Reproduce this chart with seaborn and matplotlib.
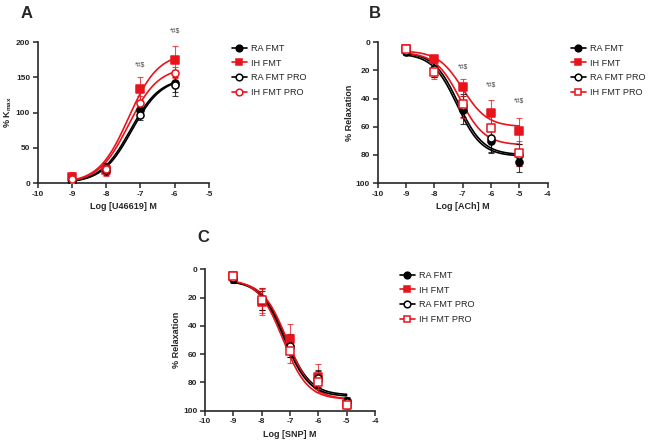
import numpy as np
import pandas as pd
import matplotlib
matplotlib.use("Agg")
import matplotlib.pyplot as plt
from matplotlib.lines import Line2D
import seaborn as sns

# groups
groups = ["RA FMT", "IH FMT", "RA FMT PRO", "IH FMT PRO"]
colors = ["black", "#e8141c", "black", "#e8141c"]
filled = [True, True, False, False]
markersA = ["o", "s", "o", "o"]   # panel A uses an open circle for IH FMT PRO
markersBC = ["o", "s", "o", "s"]

# panel A - U46619 contraction
logA = [-9, -8, -7, -6]
meanA = {
    "RA FMT": [3, 22, 104, 142],
    "IH FMT": [9, 18, 134, 175],
    "RA FMT PRO": [3, 18, 97, 140],
    "IH FMT PRO": [5, 20, 114, 157],
}
semA = {
    "RA FMT": [3, 6, 10, 18],
    "IH FMT": [7, 8, 16, 20],
    "RA FMT PRO": [3, 6, 8, 10],
    "IH FMT PRO": [4, 7, 10, 8],
}
# fitted sigmoid parameters: bottom, top, logEC50
fitA = {
    "RA FMT": (0, 150, -7.3),
    "IH FMT": (0, 185, -7.35),
    "RA FMT PRO": (0, 150, -7.25),
    "IH FMT PRO": (0, 165, -7.35),
}
A_mark_x = [-7, -6]
A_mark_y = [163, 211]

# panel B - ACh relaxation
logB = [-9, -8, -7, -6, -5]
meanB = {
    "RA FMT": [7, 19, 48, 70, 85],
    "IH FMT": [5, 12, 32, 50, 63],
    "RA FMT PRO": [6, 19, 45, 68, 80],
    "IH FMT PRO": [5, 21, 44, 61, 79],
}
semB = {
    "RA FMT": [2, 6, 10, 9, 7],
    "IH FMT": [2, 3, 6, 9, 9],
    "RA FMT PRO": [2, 6, 8, 10, 8],
    "IH FMT PRO": [2, 5, 10, 9, 9],
}
fitB = {
    "RA FMT": (8, 81, -7.2),
    "IH FMT": (6, 60, -7.0),
    "RA FMT PRO": (7, 80, -7.15),
    "IH FMT PRO": (7, 73, -7.1),
}
B_mark_x = [-7, -6, -5]
B_mark_y = [20, 33, 44]

# panel C - SNP relaxation
logC = [-9, -8, -7, -6, -5]
meanC = {
    "RA FMT": [7, 21, 55, 78, 93],
    "IH FMT": [5, 23, 49, 76, 95],
    "RA FMT PRO": [6, 22, 54, 77, 94],
    "IH FMT PRO": [5, 22, 58, 80, 96],
}
semC = {
    "RA FMT": [3, 8, 7, 6, 3],
    "IH FMT": [2, 9, 10, 9, 4],
    "RA FMT PRO": [3, 7, 8, 6, 3],
    "IH FMT PRO": [2, 9, 8, 7, 4],
}
fitC = {
    "RA FMT": (8, 89, -7.15),
    "IH FMT": (8, 92, -7.1),
    "RA FMT PRO": (8, 90, -7.2),
    "IH FMT PRO": (7, 92, -7.25),
}

sns.set_theme(style="ticks")
plt.rcParams["font.family"] = ["Liberation Sans", "DejaVu Sans"]
plt.rcParams["axes.unicode_minus"] = False
plt.rcParams["mathtext.fontset"] = "custom"
plt.rcParams["mathtext.rm"] = "Liberation Sans:bold"
plt.rcParams["mathtext.it"] = "Liberation Sans:bold"
plt.rcParams["mathtext.bf"] = "Liberation Sans:bold"

fig = plt.figure(figsize=(6.51, 4.45), dpi=100)
W, H = 651, 445


def px_axes(l, t, r, b):
    return fig.add_axes([l / W, 1 - b / H, (r - l) / W, (b - t) / H])


def draw_panel(ax, xs, means, sems, fits, mks, xlim, ylim, xlabel, ylabel, invert):
    for g, c, m, f in zip(groups, colors, mks, filled):
        bottom, top, ec50 = fits[g]
        xx = np.linspace(xs[0], xs[-1], 200)
        yy = bottom + (top - bottom) / (1 + 10 ** (ec50 - xx))
        sns.lineplot(x=xx, y=yy, color=c, lw=1.2, ax=ax, zorder=2)
        ax.errorbar(xs, means[g], yerr=sems[g], fmt="none", ecolor=c,
                    elinewidth=0.8, capsize=2.5, capthick=0.8, alpha=0.75, zorder=3)
        df = pd.DataFrame({"x": xs, "y": means[g]})
        sns.scatterplot(data=df, x="x", y="y", marker=m, s=26,
                        color=c if f else "white", edgecolor=c,
                        linewidth=1.1, ax=ax, zorder=4)
    ax.set_xlim(*xlim)
    ax.set_ylim(*ylim)
    if invert:
        ax.invert_yaxis()
    ax.set_xticks(range(xlim[0], xlim[1] + 1))
    ax.set_xlabel(xlabel, fontsize=6.5, fontweight="bold", labelpad=3)
    ax.set_ylabel(ylabel, fontsize=6.5, fontweight="bold", labelpad=1.5)
    ax.tick_params(labelsize=6, width=1.1, length=3.5, pad=2)
    for lab in ax.get_xticklabels() + ax.get_yticklabels():
        lab.set_fontweight("bold")
    sns.despine(ax=ax)
    for s in ["left", "bottom"]:
        ax.spines[s].set_linewidth(1.2)


def add_legend(ax, mks, x, y):
    handles = []
    for g, c, m, f in zip(groups, colors, mks, filled):
        handles.append(Line2D([0], [0], color=c, lw=1.2, marker=m, markersize=4.8,
                              markerfacecolor=c if f else "white",
                              markeredgecolor=c, markeredgewidth=1.1))
    ax.legend(handles, groups, loc="upper left", bbox_to_anchor=(x / W, 1 - y / H),
              bbox_transform=fig.transFigure, frameon=False,
              prop={"size": 6.6, "weight": "normal"},
              handlelength=1.6, handletextpad=0.5, labelspacing=0.62,
              borderaxespad=0, borderpad=0)


axA = px_axes(37.7, 42.3, 209, 183)
draw_panel(axA, logA, meanA, semA, fitA, markersA, (-10, -5), (0, 200),
           "Log [U46619] M", r"% K$_{max}$", False)
axA.set_yticks([0, 50, 100, 150, 200])
for x, y in zip(A_mark_x, A_mark_y):
    axA.text(x, y, "*#$", ha="center", va="bottom", fontsize=5,
             color="#444444", fontweight="normal", clip_on=False)
add_legend(axA, markersA, 232, 44)

axB = px_axes(377.7, 42.3, 547.7, 183)
draw_panel(axB, logB, meanB, semB, fitB, markersBC, (-10, -4), (0, 100),
           "Log [ACh] M", "% Relaxation", True)
axB.set_yticks([0, 20, 40, 60, 80, 100])
for x, y in zip(B_mark_x, B_mark_y):
    axB.text(x, y, "*#$", ha="center", va="bottom", fontsize=5,
             color="#444444", fontweight="normal")
add_legend(axB, markersBC, 571, 44)

axC = px_axes(205, 269.3, 375, 410.7)
draw_panel(axC, logC, meanC, semC, fitC, markersBC, (-10, -4), (0, 100),
           "Log [SNP] M", "% Relaxation", True)
axC.set_yticks([0, 20, 40, 60, 80, 100])
add_legend(axC, markersBC, 400, 271)

fig.text(27 / W, 1 - 14 / H, "A", fontsize=12, fontweight="bold", ha="center", va="center")
fig.text(375 / W, 1 - 14 / H, "B", fontsize=12, fontweight="bold", ha="center", va="center")
fig.text(203 / W, 1 - 238 / H, "C", fontsize=12, fontweight="bold", ha="center", va="center")

fig.savefig("out.png", dpi=100, facecolor="white")
